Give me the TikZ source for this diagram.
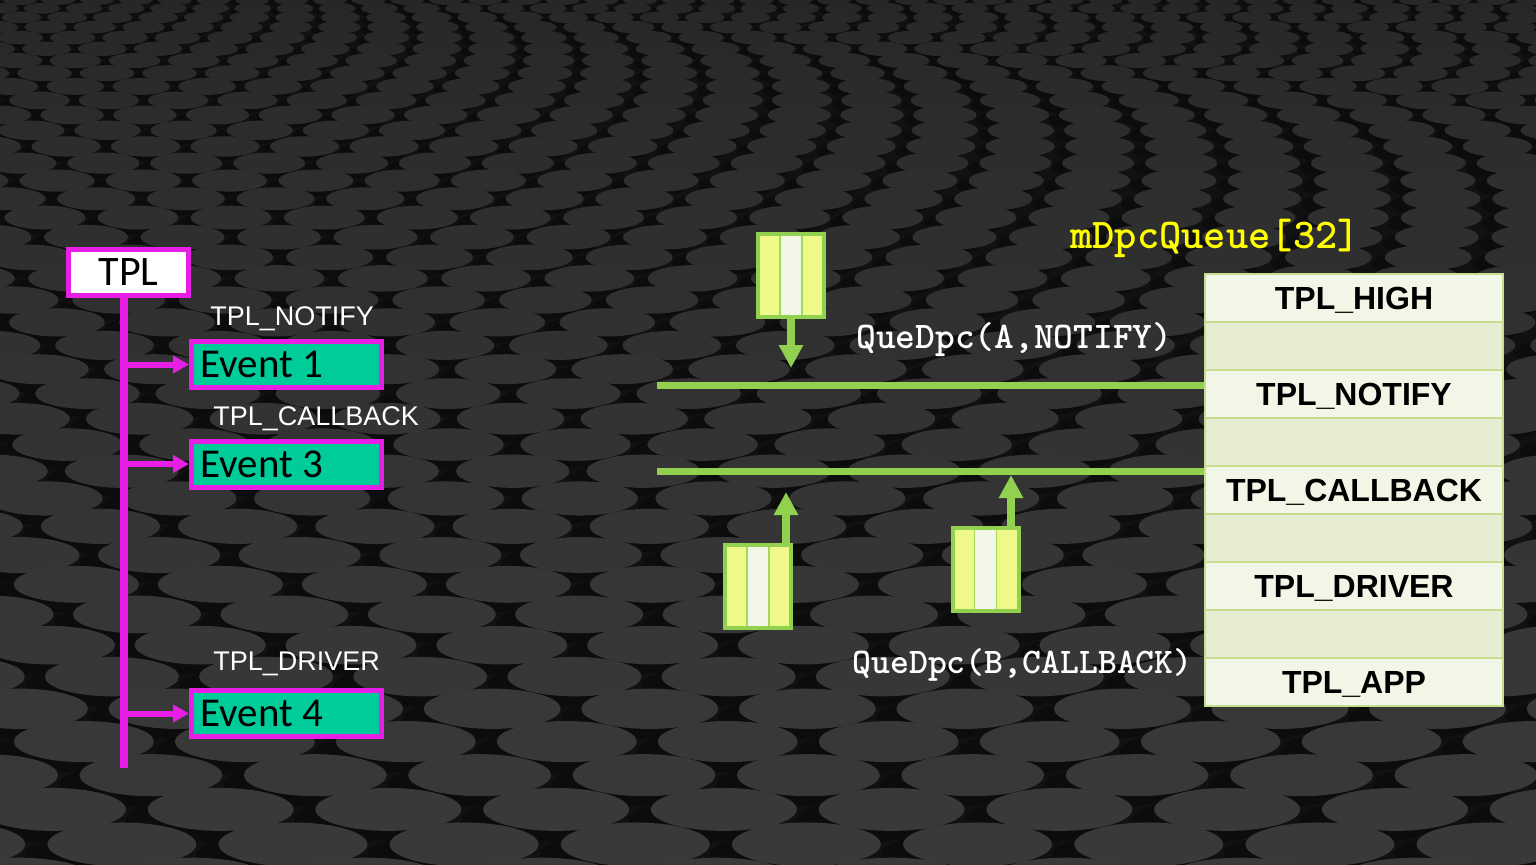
\documentclass[tikz,border=0pt]{standalone}
\usepackage{fontspec}
\setmainfont{Liberation Sans}
\newfontfamily\calfont{Carlito}
\newfontfamily\arialfont{Liberation Sans}
\newfontfamily\cmono{lmmonolt10-bold.otf}
\usetikzlibrary{arrows.meta,calc}
\definecolor{bgbase}{HTML}{111111}
\definecolor{elltop}{HTML}{272727}
\definecolor{ellbot}{HTML}{3A3A3A}
\definecolor{shad}{HTML}{0C0C0C}
\definecolor{mag}{HTML}{E61EE6}
\definecolor{teal}{HTML}{00CC99}
\definecolor{lgreen}{HTML}{92D050}
\definecolor{stripeA}{HTML}{EEF98A}
\definecolor{stripeM}{HTML}{F3F7E8}
\definecolor{rowlab}{HTML}{F2F6E6}
\definecolor{rowemp}{HTML}{E6EDD2}
\definecolor{rowline}{HTML}{C6DE8E}
\definecolor{qyellow}{HTML}{FFFF00}
\newcommand\evtext[1]{\makebox[85.8pt][l]{#1}}
\tikzset{
  tplbox/.style={draw=mag, line width=2.5pt, fill=white, minimum width=60pt, minimum height=23pt, inner sep=0pt, font=\calfont\fontsize{21}{24}\selectfont, text=black},
  evbox/.style={draw=mag, line width=2.5pt, fill=teal, minimum width=95pt, minimum height=23pt, inner xsep=4.6pt, inner ysep=0pt, font=\calfont\fontsize{20.5}{24}\selectfont, text=black},
  lvlabel/.style={anchor=base west, inner sep=0pt, text=white, font=\arialfont\fontsize{13.5}{16}\selectfont},
  spine/.style={draw=mag, line width=4pt},
  evarrow/.style={draw=mag, line width=3pt, -{Triangle[length=8pt,width=8.5pt]}},
  gline/.style={draw=lgreen, line width=3.5pt},
  garrow/.style={draw=lgreen, line width=4pt, -{Triangle[length=11.5pt,width=11.5pt]}},
  dpcbox/.style={draw=lgreen, line width=2pt, fill=stripeA, minimum width=33pt, minimum height=41.5pt, inner sep=0pt,
    path picture={\fill[stripeM] ($(path picture bounding box.south)+(-5.5pt,0)$) rectangle ($(path picture bounding box.north)+(5.5pt,0)$);
      \draw[lgreen!80!stripeA, line width=0.6pt] ($(path picture bounding box.south)+(-5.5pt,0)$) -- ($(path picture bounding box.north)+(-5.5pt,0)$);
      \draw[lgreen!80!stripeA, line width=0.6pt] ($(path picture bounding box.south)+(5.5pt,0)$) -- ($(path picture bounding box.north)+(5.5pt,0)$);}},
  codelabel/.style={anchor=base west, inner sep=0pt, text=white, font=\cmono\fontsize{18.8}{22}\selectfont},
  qrow/.style={draw=rowline, line width=0.8pt, minimum width=149pt, minimum height=24pt, inner sep=0pt, text height=11.5pt, text depth=0pt, text=black, font=\arialfont\bfseries\fontsize{16}{19}\selectfont},
  labrow/.style={qrow, fill=rowlab},
  emprow/.style={qrow, fill=rowemp}
}
\begin{document}
\begin{tikzpicture}[x=0.5pt, y=-0.5pt]
\useasboundingbox (0,0) rectangle (1536,864);
\fill[bgbase] (0,0) rectangle (1536,864);
% textured background: rows of discs
\begin{scope}
\clip (0,0) rectangle (1536,864);
\foreach \n in {0,...,40} {
  \pgfmathsetmacro\yy{8*\n+0.35*\n*\n}
  \pgfmathsetmacro\ry{0.62*(8+0.7*\n)}
  \pgfmathsetmacro\rx{3.4*\ry}
  \pgfmathsetmacro\sx{2.3*\rx}
  \pgfmathsetmacro\off{mod(\n,2)*0.5*\sx - 0.37*\n*\n}
  \pgfmathtruncatemacro\nc{(1536+0.37*\n*\n)/\sx+3}
  \pgfmathtruncatemacro\mix{100*\n/40}
  \foreach \k in {-1,...,\nc} {
    \fill[shad] (\off+\k*\sx-0.5*\sx-0.3*\rx,\yy+0.5*\ry) ellipse [x radius=\rx, y radius=\ry];
  }
  \foreach \k in {-1,...,\nc} {
    \fill[ellbot!\mix!elltop] (\off+\k*\sx-0.5*\sx,\yy) ellipse [x radius=\rx, y radius=\ry];
  }
}
\end{scope}

% left part
\node[tplbox] (tpl) at (128.5,272.5) {TPL};
\coordinate (spineend) at (124,768);
\draw[spine] (tpl.south -| spineend) -- (spineend);

\node[lvlabel] (lnotify) at (210,325) {TPL\_NOTIFY};
\node[evbox] (e1) at (286.5,364.5) {\evtext{Event 1}};
\node[lvlabel] (lcallback) at (213,425) {TPL\_CALLBACK};
\node[evbox] (e3) at (286.5,464) {\evtext{Event 3}};
\node[lvlabel] (ldriver) at (213,670) {TPL\_DRIVER};
\node[evbox] (e4) at (286.5,713.5) {\evtext{Event 4}};

\draw[evarrow] (e1.west -| spineend) -- (e1.west);
\draw[evarrow] (e3.west -| spineend) -- (e3.west);
\draw[evarrow] (e4.west -| spineend) -- (e4.west);

% queue table
\node[labrow] (r1) at (1354,298) {TPL\_HIGH};
\node[emprow] (r2) at (1354,346) {};
\node[labrow] (r3) at (1354,394) {TPL\_NOTIFY};
\node[emprow] (r4) at (1354,442) {};
\node[labrow] (r5) at (1354,490) {TPL\_CALLBACK};
\node[emprow] (r6) at (1354,538) {};
\node[labrow] (r7) at (1354,586) {TPL\_DRIVER};
\node[emprow] (r8) at (1354,634) {};
\node[labrow] (r9) at (1354,682) {TPL\_APP};
\node[anchor=base west, inner sep=0pt, text=qyellow, font=\cmono\fontsize{21.2}{25}\selectfont] (qtitle) at (1070,248) {mDpcQueue[32]};

% green lines
\coordinate (l1start) at (657,385);
\coordinate (l2start) at (657,471);
\draw[gline] (l1start) -- (l1start -| r3.west);
\draw[gline] (l2start) -- (l2start -| r5.west);

% dpc boxes
\node[dpcbox] (dpcA) at (791,275.5) {};
\node[dpcbox] (dpcB1) at (758,586.5) {};
\node[dpcbox] (dpcB2) at (985.5,569.5) {};
\coordinate (tipA) at (791,368);
\coordinate (tipB1) at (786,492);
\coordinate (tipB2) at (1011,475);
\draw[garrow] (dpcA.south) -- (tipA);
\draw[garrow] (tipB1 |- dpcB1.north) -- (tipB1);
\draw[garrow] (tipB2 |- dpcB2.north) -- (tipB2);

\node[codelabel] (qa) at (856,348) {QueDpc(A,NOTIFY)};
\node[codelabel, font=\cmono\fontsize{18}{21}\selectfont] (qb) at (852,673) {QueDpc(B,CALLBACK)};
\end{tikzpicture}
\end{document}
